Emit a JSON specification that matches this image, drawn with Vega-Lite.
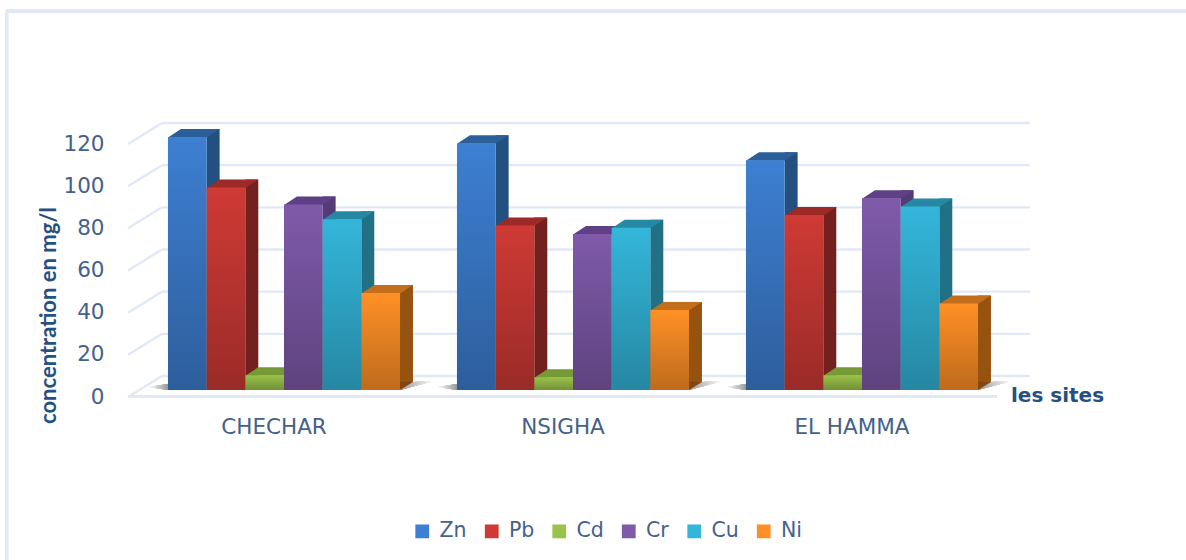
{
"$schema":"https://vega.github.io/schema/vega-lite/v6.json",
"autosize":"none","width":1180,"height":548,
"padding":{"left":6,"top":11,"right":0,"bottom":1},
"background":"white",
"config":{"view":{"stroke":null,"fill":null},"font":"DejaVu Sans"},
"resolve":{"scale":{"x":"independent"},"axis":{"x":"independent","y":"independent"}},
"layer":[
{"data":{"values":[{"v":0},{"v":20},{"v":40},{"v":60},{"v":80},{"v":100},{"v":120}]},
 "layer":[
 {"mark":{"type":"rule","stroke":"#e0e9f5","strokeWidth":2.4,"yOffset":-14},
  "encoding":{"y":{"field":"v","type":"quantitative","axis":null,"scale":{"domain":[0,120],"range":[379,126],"nice":false}},
   "x":{"datum":0,"type":"quantitative","axis":null,"scale":{"domain":[0,1],"range":[156,1024]}},"x2":{"datum":1}}},
 {"mark":{"type":"point","shape":"M0,0L-34,21","size":4,"filled":false,"stroke":"#e0e9f5","strokeWidth":2.4,"opacity":1,"yOffset":-14},
  "encoding":{"y":{"field":"v","type":"quantitative","axis":null},"x":{"datum":0,"type":"quantitative","axis":null}}},
 {"mark":{"type":"rule","stroke":"#e0e9f5","strokeWidth":2.4,"yOffset":6.5},
  "encoding":{"y":{"datum":0,"type":"quantitative","axis":null},"x":{"datum":-0.0392,"type":"quantitative","axis":null},"x2":{"datum":0.962}}},
 {"mark":{"type":"rule","stroke":"#e0e9f5","strokeWidth":3},
  "encoding":{"y":{"datum":179.76,"type":"quantitative","axis":null},"x":{"datum":-0.18,"type":"quantitative","axis":null},"x2":{"datum":1.18}}},
 {"mark":{"type":"rule","stroke":"#e0e9f5","strokeWidth":3},
  "encoding":{"x":{"datum":-0.179,"type":"quantitative","axis":null},"y":{"datum":179.76,"type":"quantitative","axis":null},"y2":{"datum":-85}}}
 ]},
{"data":{"values":[
{"site":"CHECHAR","metal":"Zn","value":120},{"site":"CHECHAR","metal":"Pb","value":96},{"site":"CHECHAR","metal":"Cd","value":7},{"site":"CHECHAR","metal":"Cr","value":88},{"site":"CHECHAR","metal":"Cu","value":81},{"site":"CHECHAR","metal":"Ni","value":46},
{"site":"NSIGHA","metal":"Zn","value":117},{"site":"NSIGHA","metal":"Pb","value":78},{"site":"NSIGHA","metal":"Cd","value":6},{"site":"NSIGHA","metal":"Cr","value":74},{"site":"NSIGHA","metal":"Cu","value":77},{"site":"NSIGHA","metal":"Ni","value":38},
{"site":"EL HAMMA","metal":"Zn","value":109},{"site":"EL HAMMA","metal":"Pb","value":83},{"site":"EL HAMMA","metal":"Cd","value":7},{"site":"EL HAMMA","metal":"Cr","value":91},{"site":"EL HAMMA","metal":"Cu","value":87},{"site":"EL HAMMA","metal":"Ni","value":41}]},
 "resolve":{"scale":{"color":"independent","xOffset":"independent"},"legend":{"color":"independent"},"axis":{"x":"independent","y":"independent"}},
 "layer":[
 {"mark":{"type":"point","shape":"M116,0L150,-9L129,-8Z","size":4,"filled":true,"opacity":1,"strokeWidth":0,
   "fill":{"gradient":"linear","x1":0,"x2":1,"y1":0,"y2":0,"stops":[{"offset":0,"color":"#999999"},{"offset":1,"color":"#ffffff"}]}},
  "encoding":{"x":{"field":"site","type":"nominal","sort":null,"axis":null,"scale":{"range":[133.5,1000.5],"paddingInner":0.197,"paddingOuter":0.0985}},
   "y":{"datum":0,"type":"quantitative","axis":null}}},
 {"mark":{"type":"point","shape":"M-116,0L-116,-6L-136,-3Z","size":4,"filled":true,"opacity":1,"strokeWidth":0,
   "fill":{"gradient":"linear","x1":1,"x2":0,"y1":0,"y2":0,"stops":[{"offset":0,"color":"#999999"},{"offset":1,"color":"#ffffff"}]}},
  "encoding":{"x":{"field":"site","type":"nominal","sort":null,"axis":null},"y":{"datum":0,"type":"quantitative","axis":null}}},
 {"mark":{"type":"bar","width":13,"yOffset":-8,"strokeWidth":0},
  "encoding":{"x":{"field":"site","type":"nominal","sort":null,"axis":null},
   "xOffset":{"field":"metal","type":"nominal","scale":{"domain":["Zn","Pb","Cd","Cr","Cu","Ni"],"range":[25.83,257.83]}},
   "y":{"field":"value","type":"quantitative","axis":null},
   "color":{"field":"metal","type":"nominal","legend":null,"scale":{"domain":["Zn","Pb","Cd","Cr","Cu","Ni"],"range":["#24507f","#72211f","#6a8a30","#553a78","#217085","#96530f"]}}}},
 {"mark":{"type":"point","shape":"M19.33,-8.5L32.33,-8L19.33,0Z","size":4,"filled":true,"opacity":1,"strokeWidth":0},
  "encoding":{"x":{"field":"site","type":"nominal","sort":null,"axis":null},
   "xOffset":{"field":"metal","type":"nominal","scale":{"domain":["Zn","Pb","Cd","Cr","Cu","Ni"]}},
   "y":{"datum":0,"type":"quantitative","axis":null},
   "color":{"field":"metal","type":"nominal","legend":null,"scale":{"domain":["Zn","Pb","Cd","Cr","Cu","Ni"],"range":["#24507f","#641c1a","#6a8a30","#553a78","#1f6479","#844510"]}}}},
 {"mark":{"type":"point","shape":"M-19.33,0.5L19.33,0.5L32.33,-8L-6.33,-8Z","size":4,"filled":true,"opacity":1,"strokeWidth":0},
  "encoding":{"x":{"field":"site","type":"nominal","sort":null,"axis":null},
   "xOffset":{"field":"metal","type":"nominal","scale":{"domain":["Zn","Pb","Cd","Cr","Cu","Ni"]}},
   "y":{"field":"value","type":"quantitative","axis":null},
   "color":{"field":"metal","type":"nominal","legend":null,"scale":{"domain":["Zn","Pb","Cd","Cr","Cu","Ni"],"range":["#2a5f99","#9c2b27","#769a35","#5f3f85","#2788a3","#c26e1c"]}}}},
 {"mark":{"type":"bar","strokeWidth":0},
  "encoding":{
   "x":{"field":"site","type":"nominal","sort":null,"title":"les sites",
     "axis":{"orient":"bottom","offset":-160,"domain":false,"ticks":false,"grid":false,"labelAngle":0,"labelFont":"DejaVu Sans","labelFontSize":21.5,"labelColor":"#44618c","labelFontWeight":"normal","labelOffset":-10,"labelPadding":17,
       "titleFont":"DejaVu Sans","titleFontSize":20,"titleFontWeight":"bold","titleColor":"#25507f","titleX":1051,"titleY":-4,"titleAlign":"center","titleBaseline":"middle"}},
   "xOffset":{"field":"metal","type":"nominal","scale":{"domain":["Zn","Pb","Cd","Cr","Cu","Ni"]}},
   "y":{"field":"value","type":"quantitative","title":"concentration en mg/l",
     "axis":{"orient":"left","offset":-100,"domain":false,"ticks":false,"grid":false,"values":[0,20,40,60,80,100,120],"labelFont":"DejaVu Sans","labelFontSize":21.5,"labelColor":"#44618c","labelOffset":7,"labelPadding":2,
       "titleFont":"Lato","titleFontSize":22,"titleFontWeight":"bold","titleColor":"#25507f","titleX":-46,"titleY":304,"titleAngle":-90,"titleAlign":"center"}},
   "color":{"field":"metal","type":"nominal","title":null,
     "legend":{"orient":"none","legendX":406,"legendY":510,"direction":"horizontal","columns":6,"symbolType":"square","symbolSize":190,"symbolStrokeWidth":0,"labelFont":"DejaVu Sans","labelFontSize":20.5,"labelColor":"#44618c","labelOffset":7,"columnPadding":14.5,"padding":0,"symbolOpacity":1},
     "scale":{"domain":["Zn","Pb","Cd","Cr","Cu","Ni"],"range":["#3d7fd2","#cf3a35","#9bc24a","#7f5aaa","#33b6da","#ff9026"]}}
  }},
 {"mark":{"type":"bar","strokeWidth":0,
   "fill":{"gradient":"linear","x1":0,"x2":0,"y1":0,"y2":1,"stops":[{"offset":0,"color":"rgba(0,0,0,0)"},{"offset":1,"color":"rgba(0,0,0,0.26)"}]}},
  "encoding":{"x":{"field":"site","type":"nominal","sort":null,"axis":null},
   "xOffset":{"field":"metal","type":"nominal","scale":{"domain":["Zn","Pb","Cd","Cr","Cu","Ni"]}},
   "y":{"field":"value","type":"quantitative","axis":null}}}
 ]}
]}
